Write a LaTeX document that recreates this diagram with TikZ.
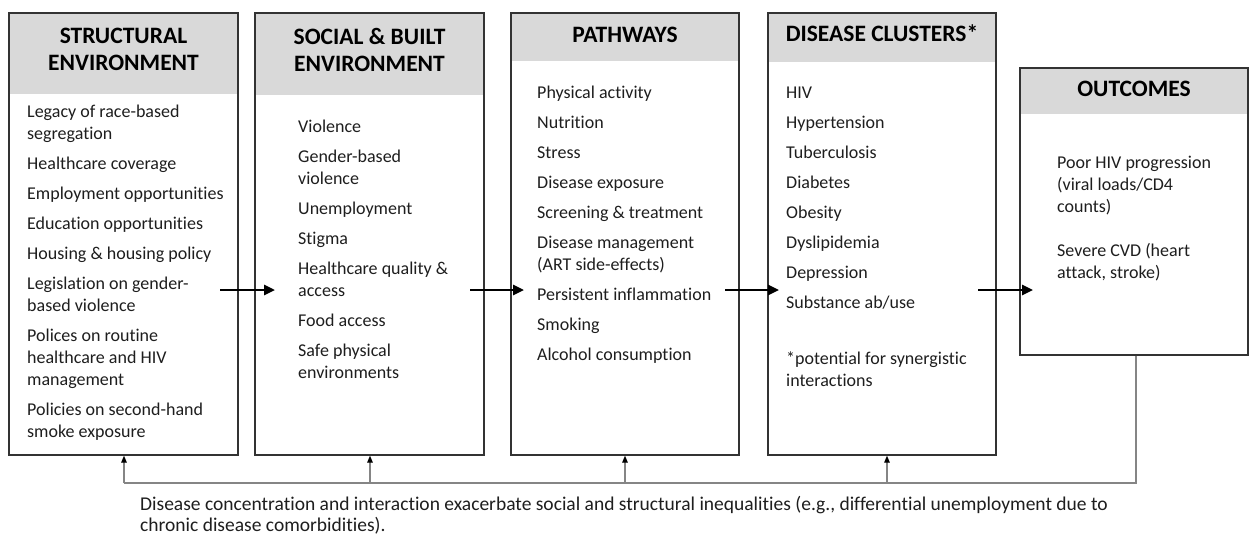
\documentclass[tikz,border=0pt]{standalone}
\usepackage{fontspec}
\setmainfont{Carlito}[Ligatures=NoCommon]
\usetikzlibrary{arrows.meta}

\definecolor{headgray}{HTML}{D9D9D9}
\definecolor{frame}{HTML}{333333}
\definecolor{bodytext}{HTML}{1E1E1E}
\definecolor{loopgray}{HTML}{858585}

\newcommand{\itemlist}[2]{\parbox[t]{#1}{\fontsize{18}{22}\selectfont\leavevmode#2}}

\tikzset{
  box/.style={draw=frame, line width=1.3pt, inner sep=0pt},
  headfill/.style={fill=headgray, inner sep=0pt, anchor=north},
  headtext/.style={font=\bfseries\fontsize{23.5}{27}\selectfont, align=center, inner sep=0pt, text=black},
  bodylist/.style={anchor=base west, inner sep=0pt, text=bodytext},
  flow/.style={line width=2.6pt, -{Triangle[length=11pt,width=10pt]}},
  loopline/.style={draw=loopgray, line width=1.2pt},
  looparrow/.style={draw=loopgray, line width=1.2pt, -{Triangle[length=7pt,width=5.5pt,color=black]}},
}

\begin{document}
\begin{tikzpicture}[x=1pt,y=-1pt]
\fill[white] (0,0) rectangle (1251,536);
\useasboundingbox (0,0) rectangle (1251,536);

% grey title bands
\node[headfill, minimum width=228pt, minimum height=80pt]  (h1) at (123.5,13.6) {};
\node[headfill, minimum width=228pt, minimum height=81pt]  (h2) at (369.5,13.6) {};
\node[headfill, minimum width=227pt, minimum height=47pt]  (h3) at (625,13.6) {};
\node[headfill, minimum width=227pt, minimum height=48pt]  (h4) at (882,13.6) {};
\node[headfill, minimum width=227pt, minimum height=45pt]  (h5) at (1134,68.6) {};

% column frames
\node[box, minimum width=229pt, minimum height=442pt] (b1) at (123.5,234) {};
\node[box, minimum width=229pt, minimum height=442pt] (b2) at (369.5,234) {};
\node[box, minimum width=228pt, minimum height=442pt] (b3) at (625,234) {};
\node[box, minimum width=228pt, minimum height=442pt] (b4) at (882,234) {};
\node[box, minimum width=228pt, minimum height=287pt] (b5) at (1134,211.5) {};

% column titles
\node[headtext] (t1) at (123.5,49.5) {STRUCTURAL\\ENVIRONMENT};
\node[headtext] (t2) at (369.5,49.5) {SOCIAL \& BUILT\\ENVIRONMENT};
\node[headtext] (t3) at (625,34.5) {PATHWAYS};
\node[headtext] (t4) at (882,33.5) {DISEASE CLUSTERS*};
\node[headtext] (t5) at (1134,88.5) {OUTCOMES};

% column contents
\node[bodylist] (l1) at (27,117) {\itemlist{210pt}{%
Legacy of race-based\\segregation\\[8pt]
Healthcare coverage\\[8pt]
Employment opportunities\\[8pt]
Education opportunities\\[8pt]
Housing \& housing policy\\[8pt]
Legislation on gender-\\based violence\\[8pt]
Polices on routine\\healthcare and HIV\\management\\[8pt]
Policies on second-hand\\smoke exposure}};

\node[bodylist] (l2) at (298,132) {\itemlist{180pt}{%
Violence\\[8pt]
Gender-based\\violence\\[8pt]
Unemployment\\[8pt]
Stigma\\[8pt]
Healthcare quality \&\\access\\[8pt]
Food access\\[8pt]
Safe physical\\environments}};

\node[bodylist] (l3) at (537,98.5) {\itemlist{200pt}{%
Physical activity\\[8pt]
Nutrition\\[8pt]
Stress\\[8pt]
Disease exposure\\[8pt]
Screening \& treatment\\[8pt]
Disease management\\(ART side-effects)\\[8pt]
Persistent inflammation\\[8pt]
Smoking\\[8pt]
Alcohol consumption}};

\node[bodylist] (l4) at (786,98.5) {\itemlist{205pt}{%
HIV\\[8pt]
Hypertension\\[8pt]
Tuberculosis\\[8pt]
Diabetes\\[8pt]
Obesity\\[8pt]
Dyslipidemia\\[8pt]
Depression\\[8pt]
Substance ab/use\\[34pt]
*potential for synergistic\\interactions}};

\node[bodylist] (l5) at (1057,168.5) {\itemlist{185pt}{%
Poor HIV progression\\(viral loads/CD4\\counts)\\[22pt]
Severe CVD (heart\\attack, stroke)}};

% forward arrows between columns
\coordinate (o1) at (220,290);  \coordinate (i2) at (275,290);
\coordinate (o2) at (470,290);  \coordinate (i3) at (524,290);
\coordinate (o3) at (725,290);  \coordinate (i4) at (779,290);
\coordinate (o4) at (978,290);  \coordinate (i5) at (1033,290);
\draw[flow] (o1) -- (i2);
\draw[flow] (o2) -- (i3);
\draw[flow] (o3) -- (i4);
\draw[flow] (o4) -- (i5);

% feedback loop back to the earlier columns
\coordinate (fbr) at (1136,483);
\coordinate (fb1) at (124,483);
\coordinate (fb2) at (370,483);
\coordinate (fb3) at (625,483);
\coordinate (fb4) at (887,483);
\draw[loopline] (fbr |- b5.south) -- (fbr) -- (fb1);
\draw[looparrow] (fb1) -- (fb1 |- b1.south);
\draw[looparrow] (fb2) -- (fb2 |- b2.south);
\draw[looparrow] (fb3) -- (fb3 |- b3.south);
\draw[looparrow] (fb4) -- (fb4 |- b4.south);

% note under the loop
\node[bodylist] (note) at (140,510.5) {\parbox[t]{1100pt}{\fontsize{19.5}{21}\selectfont\leavevmode
Disease concentration and interaction exacerbate social and structural inequalities (e.g., differential unemployment due to\\
chronic disease comorbidities).}};
\end{tikzpicture}
\end{document}
